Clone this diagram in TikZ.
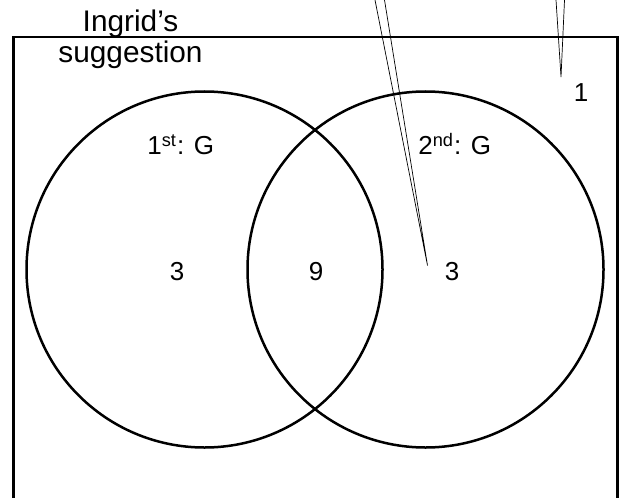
\documentclass[tikz,border=0pt]{standalone}
\usepackage{fontspec}
\setmainfont{Liberation Sans}
\definecolor{Ink}{HTML}{000000}
\begin{document}
\begin{tikzpicture}[x=0.5pt,y=-0.5pt,every node/.style={font=\fontsize{13}{15}\selectfont,text=Ink,inner sep=0pt},lab/.style={anchor=base},ttl/.style={anchor=base,font=\fontsize{14.9}{16}\selectfont},ring/.style={draw=Ink,line width=1.25pt},wedge/.style={draw=Ink,line width=0.35pt}]
\useasboundingbox(0,0)rectangle(619,497);\clip(0,0)rectangle(619,497);
\draw[draw=Ink,line width=1.35pt](13.5,37)rectangle(617.5,530);
\draw[ring](204.5,269.5)circle(178);\draw[ring](425.5,269.5)circle(178);
\node[ttl](ttlA)at(130.5,32){Ingrid’s};\node[ttl](ttlB)at(130.5,63){suggestion};
\node[lab,anchor=base west](first)at(147,155){1\textsuperscript{st}: G};\node[lab,anchor=base west](second)at(418,155){2\textsuperscript{nd}: G};
\node[lab](onlyA)at(177,280){3};\node[lab](both)at(316,280){9};\node[lab](onlyB)at(452,280){3};\node[lab](none)at(581,102){1};
\coordinate(tipA)at(427.5,265.5);\coordinate(tipB)at(561,77);
\draw[wedge](375,0)--(tipA)--(384.5,0);\draw[wedge](556,0)--(tipB)--(564.5,0);
\end{tikzpicture}
\end{document}
